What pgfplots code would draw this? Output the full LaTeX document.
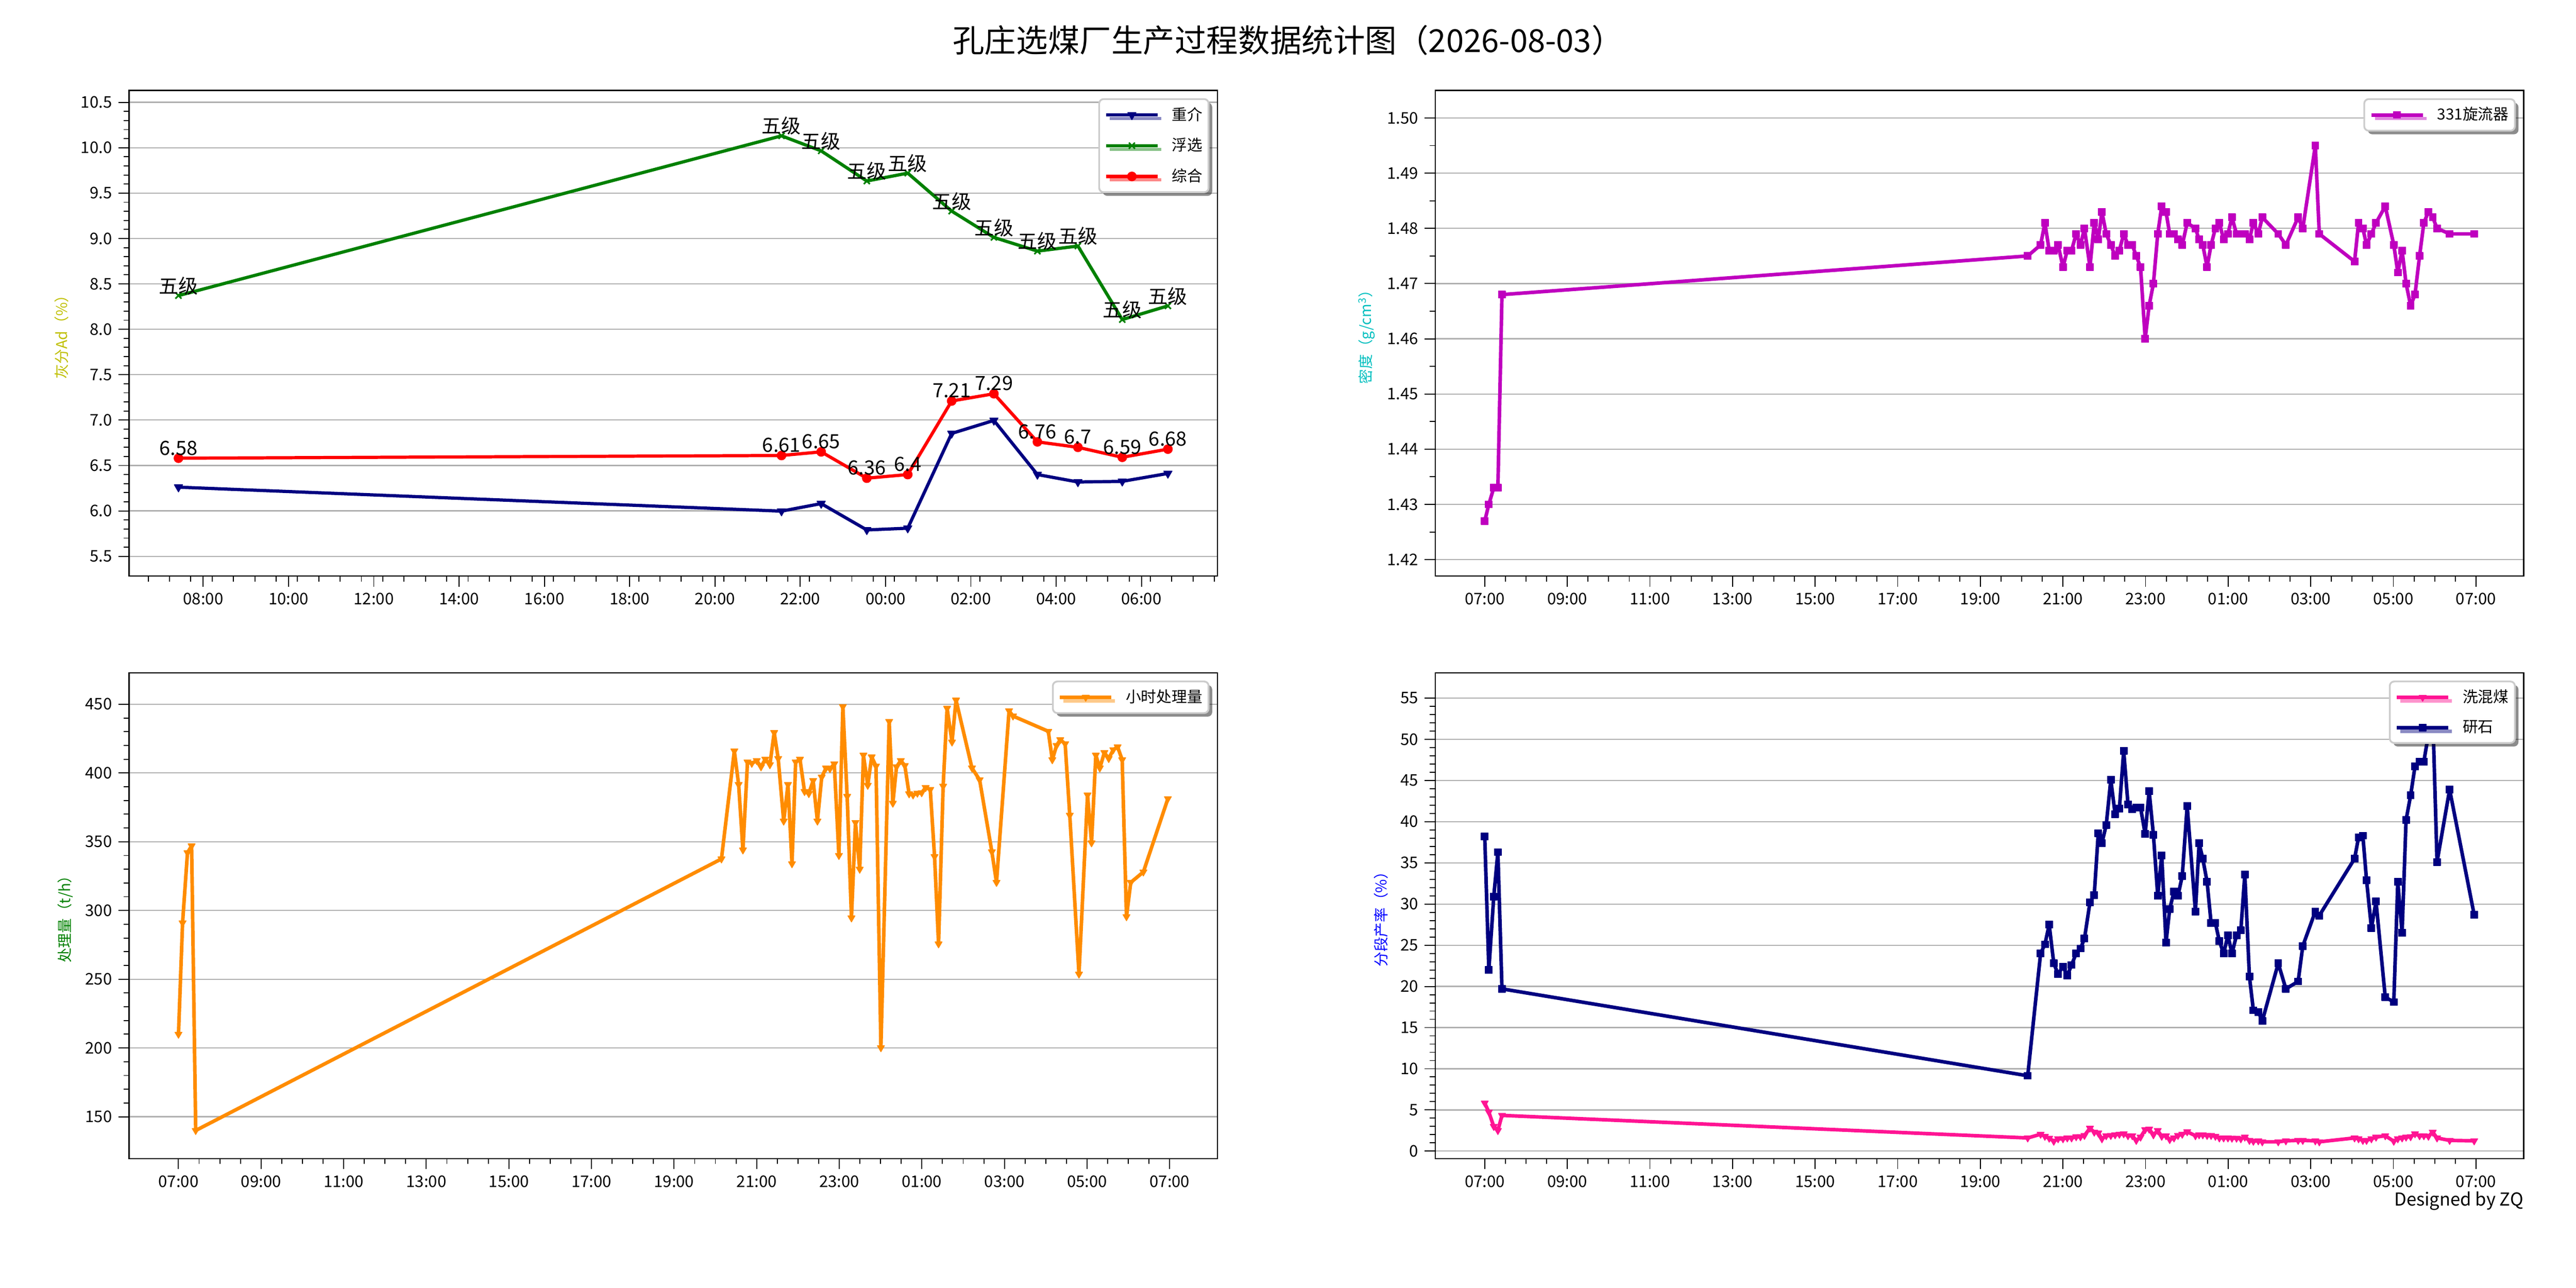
\documentclass[border=0pt]{standalone}
\usepackage{fontspec}
\setmainfont{Noto Sans CJK SC}
\usepackage{pgfplots}
\pgfplotsset{compat=1.18}
\usepackage{pgfplotstable}
\usetikzlibrary{shadows}

\definecolor{cnavy}{RGB}{0,0,128}
\definecolor{cgreen}{RGB}{0,128,0}
\definecolor{cred}{RGB}{255,0,0}
\definecolor{cmag}{RGB}{191,0,191}
\definecolor{corange}{RGB}{255,140,0}
\definecolor{cpink}{RGB}{255,20,147}
\definecolor{cyel}{RGB}{191,191,0}
\definecolor{ccyan}{RGB}{0,191,191}
\definecolor{cblue}{RGB}{0,0,255}
\definecolor{gridgray}{RGB}{176,176,176}
\definecolor{legedge}{RGB}{204,204,204}

% 灰分 (hourly)
\pgfplotstableread{
t     zj    fx     zh   zl
7.42  6.261 8.371  6.58 6.58
21.56 5.997 10.131 6.61 6.61
22.49 6.080 9.965  6.65 6.65
23.56 5.790 9.633  6.36 6.36
24.52 5.809 9.720  6.40 6.4
25.55 6.853 9.302  7.21 7.21
26.54 6.996 9.012  7.29 7.29
27.56 6.400 8.861  6.76 6.76
28.51 6.318 8.917  6.70 6.7
29.55 6.325 8.107  6.59 6.59
30.62 6.412 8.258  6.68 6.68
}\ashtable

% 密度 / 处理量 / 洗混煤 / 研石 (same time stamps)
\pgfplotstableread{
t      den   thr   wash gang
7.000  1.427 210   5.84 38.2
7.099  1.430 291   4.74 22.0
7.218  1.433 342   3.00 30.9
7.318  1.433 347   2.50 36.3
7.417  1.468 140   4.34 19.7
20.147 1.475 337.5 1.60 9.15
20.459 1.477 416   2.05 24.0
20.563 1.481 391.6 1.80 25.1
20.667 1.476 344   1.57 27.5
20.778 1.476 408   1.20 22.8
20.882 1.477 407   1.50 21.5
21.001 1.473 409   1.50 22.4
21.105 1.476 404.5 1.60 21.3
21.209 1.476 410   1.60 22.6
21.320 1.479 406   1.75 24.0
21.424 1.477 429.4 1.75 24.6
21.521 1.480 410.5 1.90 25.8
21.654 1.473 365   2.78 30.2
21.758 1.481 391.6 2.30 31.1
21.855 1.478 334   2.20 38.6
21.944 1.483 408   1.50 37.4
22.048 1.479 410   1.87 39.6
22.159 1.477 386.5 1.90 45.1
22.263 1.475 385   1.98 40.9
22.367 1.476 394.5 2.05 41.6
22.471 1.479 365   2.10 48.6
22.575 1.477 397   1.87 42.1
22.679 1.477 403.6 1.87 41.5
22.775 1.475 403   1.30 41.7
22.879 1.473 406.6 1.70 41.7
22.991 1.460 340   2.60 38.5
23.087 1.466 448.3 2.67 43.7
23.191 1.470 383   1.98 38.4
23.295 1.479 294.6 2.50 31.0
23.392 1.484 364   1.80 35.9
23.495 1.483 330   1.87 25.3
23.585 1.479 413   1.40 29.4
23.689 1.479 391   1.60 31.5
23.785 1.478 411.7 1.90 31.0
23.889 1.477 405   2.05 33.4
24.008 1.481 200.2 2.35 41.9
24.208 1.480 437.5 1.87 29.1
24.297 1.478 378   1.98 37.4
24.386 1.477 404.5 1.98 35.5
24.490 1.473 409   1.90 32.7
24.587 1.477 405.4 1.90 27.7
24.691 1.480 384.8 1.80 27.7
24.787 1.481 384   1.60 25.5
24.891 1.478 385.3 1.60 24.0
24.995 1.479 385.6 1.60 26.2
25.092 1.482 389.4 1.57 24.0
25.203 1.479 388   1.57 26.2
25.307 1.479 339.2 1.50 26.8
25.404 1.479 275.7 1.70 33.6
25.515 1.478 390.4 1.30 21.2
25.611 1.481 447   1.20 17.1
25.730 1.479 422.5 1.25 16.9
25.827 1.482 453   1.13 15.8
26.213 1.479 403.6 1.13 22.8
26.398 1.477 395   1.25 19.7
26.695 1.482 342.7 1.30 20.6
26.807 1.480 320.4 1.30 24.9
27.111 1.495 445.2 1.25 29.1
27.207 1.479 441.4 1.13 28.6
28.061 1.474 430.3 1.60 35.5
28.158 1.481 409.6 1.50 38.1
28.262 1.480 420   1.30 38.3
28.351 1.477 424.2 1.30 32.9
28.469 1.479 421.2 1.50 27.1
28.581 1.481 369.3 1.70 30.3
28.804 1.484 253.7 1.87 18.7
29.011 1.477 384   1.20 18.1
29.108 1.472 349.2 1.50 32.7
29.212 1.476 413   1.60 26.5
29.308 1.470 403.6 1.70 40.2
29.419 1.466 414.8 1.75 43.2
29.524 1.468 410.5 2.10 46.7
29.635 1.475 416.9 1.87 47.3
29.739 1.481 419   1.87 47.3
29.850 1.483 409.6 1.80 50.6
29.954 1.482 295.5 2.30 53.1
30.058 1.480 320.4 1.60 35.1
30.363 1.479 328   1.30 43.9
30.957 1.479 381.3 1.25 28.7
}\dense

\pgfplotsset{
  panel/.style={
    scale only axis, width=21.463cm, height=9.58cm,
    axis line style={line width=0.7pt},
    tick pos=left, tick align=outside,
    major tick length=6pt, minor tick length=3pt,
    tick style={black, line width=0.55pt},
    ymajorgrids, major grid style={gridgray, line width=0.65pt},
    ticklabel style={font=\fontsize{9}{10}\selectfont},
    /pgf/number format/assume math mode=true,
    scaled y ticks=false,
    ylabel style={font=\fontsize{8.3}{9}\selectfont},
    clip mode=individual,
    legend cell align=left,
    legend style={at={(1,1)}, anchor=north east, xshift=-0.155cm, yshift=-0.155cm,
      draw=legedge, line width=1pt, fill=white, rounded corners=2.5pt,
      drop shadow={shadow xshift=2pt, shadow yshift=-2pt, fill=black, opacity=0.45},
      font=\fontsize{8.6}{10}\selectfont,
      inner xsep=3pt, inner ysep=4pt, row sep=7.5pt, column sep=6.5pt,
      nodes={inner sep=0.5pt}},
    legend image code/.code={\draw[sharp corners,mark repeat=2,mark phase=2,##1]
      plot coordinates {(0cm,0cm) (0.508cm,0cm) (1.016cm,0cm)};},
  },
  otime/.style={xmin=5.802, xmax=32.155,
    xtick={7,9,11,13,15,17,19,21,23,25,27,29,31},
    xticklabels={07:00,09:00,11:00,13:00,15:00,17:00,19:00,21:00,23:00,01:00,03:00,05:00,07:00},
    minor x tick num=3},
  dline/.style={line width=2pt, line join=round},
  tline/.style={line width=1.8pt, line join=round},
}

\begin{document}
\begin{tikzpicture}
\useasboundingbox (0,0) rectangle (50.8,25.4);
\node[font=\fontsize{17.8}{20}\selectfont] at (25.4,24.604) {孔庄选煤厂生产过程数据统计图（2026-08-03）};

% 灰分
\begin{axis}[panel, at={(2.544cm,14.038cm)}, anchor=south west,
  xmin=6.26, xmax=31.78, ymin=5.281, ymax=10.632,
  xtick={8,10,12,14,16,18,20,22,24,26,28,30},
  xticklabels={08:00,10:00,12:00,14:00,16:00,18:00,20:00,22:00,00:00,02:00,04:00,06:00},
  minor xtick={6.71,7.21,...,31.71},
  ytick={5.5,6,6.5,7,7.5,8,8.5,9,9.5,10,10.5}, minor y tick num=4,
  yticklabel style={/pgf/number format/.cd, fixed, fixed zerofill, precision=1},
  ylabel={灰分Ad（\%）}, ylabel style={text=cyel}]
\addplot[cnavy, tline, mark=triangle*, mark size=2.7pt,
  mark options={rotate=180, line width=0.4pt}] table[x=t, y=zj] {\ashtable};
\addlegendentry{重介}
\addplot[cgreen, tline, mark=x, mark size=2.4pt, mark options={line width=0.9pt},
  nodes near coords={五级},
  every node near coord/.append style={anchor=south, inner sep=0pt, text=black,
    font=\fontsize{11}{12}\selectfont}] table[x=t, y=fx] {\ashtable};
\addlegendentry{浮选}
\addplot[cred, tline, mark=*, mark size=2.5pt, mark options={line width=0.4pt},
  point meta=explicit symbolic, nodes near coords,
  every node near coord/.append style={anchor=south, inner sep=0pt, yshift=1.5pt, text=black,
    font=\fontsize{11}{12}\selectfont}] table[x=t, y=zh, meta=zl] {\ashtable};
\addlegendentry{综合}
\end{axis}

% 密度
\begin{axis}[panel, otime, at={(28.304cm,14.038cm)}, anchor=south west,
  ymin=1.417, ymax=1.505,
  ytick={1.42,1.43,1.44,1.45,1.46,1.47,1.48,1.49,1.50}, minor y tick num=1,
  yticklabel style={/pgf/number format/.cd, fixed, fixed zerofill, precision=2},
  ylabel={密度（g/cm\textsuperscript{3}）}, ylabel style={text=ccyan}]
\addplot[cmag, dline, mark=square*, mark size=1.95pt, mark options={line width=0.4pt}]
  table[x=t, y=den] {\dense};
\addlegendentry{331旋流器}
\end{axis}

% 处理量
\begin{axis}[panel, otime, at={(2.544cm,2.553cm)}, anchor=south west,
  ymin=119.6, ymax=472.9,
  ytick={150,200,250,300,350,400,450}, minor y tick num=4,
  ylabel={处理量（t/h）}, ylabel style={text=cgreen}]
\addplot[corange, dline, mark=triangle*, mark size=2.3pt,
  mark options={rotate=180, line width=0.4pt}] table[x=t, y=thr] {\dense};
\addlegendentry{小时处理量}
\end{axis}

% 分段产率
\begin{axis}[panel, otime, at={(28.304cm,2.553cm)}, anchor=south west,
  ymin=-0.9, ymax=58.08,
  ytick={0,5,10,15,20,25,30,35,40,45,50,55}, minor y tick num=4,
  ylabel={分段产率（\%）}, ylabel style={text=cblue}]
\addplot[cpink, dline, mark=triangle*, mark size=2.3pt,
  mark options={rotate=180, line width=0.4pt}] table[x=t, y=wash] {\dense};
\addlegendentry{洗混煤}
\addplot[cnavy, dline, mark=square*, mark size=1.95pt, mark options={line width=0.4pt}]
  table[x=t, y=gang] {\dense};
\addlegendentry{研石}
\end{axis}

\node[anchor=east, inner sep=0pt, font=\fontsize{10}{12}\selectfont] at (49.767,1.719) {Designed by ZQ};
\end{tikzpicture}
\end{document}
